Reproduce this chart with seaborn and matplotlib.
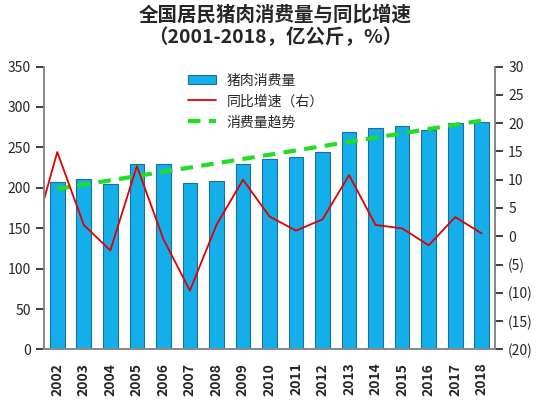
import numpy as np
import matplotlib
matplotlib.use("Agg")
import matplotlib.pyplot as plt
import seaborn as sns
import pandas as pd

years = [str(y) for y in range(2002, 2019)]
consumption = [207, 211, 205, 230, 229, 206, 209, 229, 236, 238, 244, 269, 274, 276, 271, 280, 282]
growth = [14.9, 2.0, -2.5, 12.4, -0.5, -9.6, 2.0, 10.0, 3.5, 1.0, 3.0, 10.8, 2.0, 1.4, -1.6, 3.4, 0.5]
growth_2001 = -1.9

sns.set_theme(style="white")
plt.rcParams['font.family'] = ['Noto Sans CJK SC', 'DejaVu Sans']

fig, ax = plt.subplots(figsize=(5.5, 4.16), dpi=100)
df = pd.DataFrame({"year": years, "v": consumption})
sns.barplot(data=df, x="year", y="v", ax=ax, color="#14AEEB", edgecolor="#1C6E9E",
            linewidth=0.8, width=0.55, saturation=1, label="猪肉消费量")
x = np.arange(len(years))
k, b = np.polyfit(x, consumption, 1)
ax.plot(x, k * x + b, ls=(0, (3, 2)), color="#22DD22", lw=3, label="消费量趋势")
ax.set_ylim(0, 350)
ax.set_yticks(range(0, 351, 50))
ax.set_xlim(-0.5, len(years) - 0.5)
ax.set_xlabel(""); ax.set_ylabel("")
ax.tick_params(axis='x', rotation=90, labelsize=10)
ax.tick_params(axis='y', labelsize=10)
for lbl in ax.get_xticklabels():
    lbl.set_fontweight('bold')

ax2 = ax.twinx()
ax2.plot(np.concatenate([[-1], x]), [growth_2001] + growth, color="#E00000", lw=1.3,
         label="同比增速（右）")
ax2.set_ylim(-20, 30)
ax2.set_yticks(range(-20, 31, 5))
ax2.set_yticklabels([f"({-t})" if t < 0 else str(t) for t in range(-20, 31, 5)], fontsize=10)
ax2.set_xlim(-0.5, len(years) - 0.5)
for a in (ax, ax2):
    for s in a.spines.values():
        s.set_color("#888888")
    a.spines['top'].set_visible(False)

h1, l1 = ax.get_legend_handles_labels()
h2, l2 = ax2.get_legend_handles_labels()
order = [h1[1], h2[0], h1[0]]
labs = [l1[1], l2[0], l1[0]]
ax.legend(order, labs, loc="upper center", bbox_to_anchor=(0.47, 1.02), frameon=False, fontsize=10)

fig.suptitle("全国居民猪肉消费量与同比增速\n（2001-2018，亿公斤，%）", fontsize=14, fontweight='bold', y=0.99)
fig.subplots_adjust(left=0.08, right=0.9, top=0.84, bottom=0.16)
fig.savefig("out.png")
